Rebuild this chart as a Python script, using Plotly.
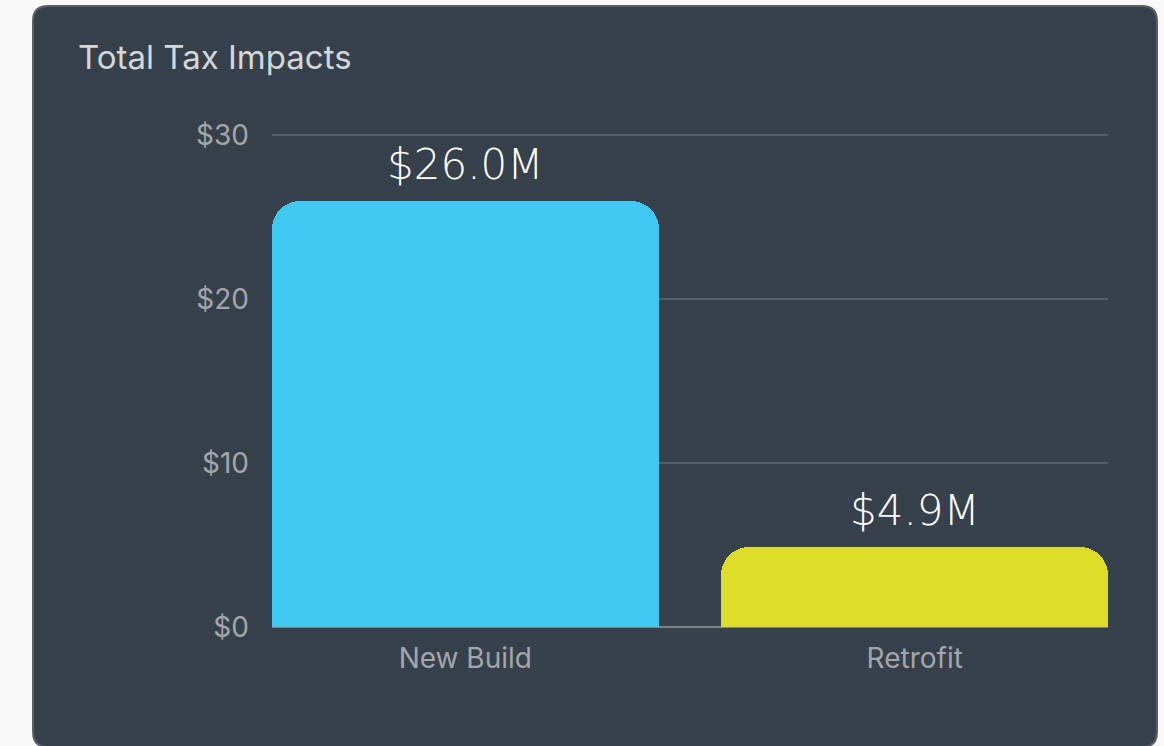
import plotly.graph_objects as go

categories = ['New Build', 'Retrofit']
tax_impact = [26.0, 4.9]  # $M
value_labels = ['$26.0M', '$4.9M']
bar_colors = ['#3ec8f2', '#dddc28']
y_ticks = [0, 10, 20, 30]
y_tick_labels = ['$0', '$10', '$20', '$30']

W, H = 1164, 746
L, R, T, B = 272, 56, 132, 119
CARD = '#37414b'
FONT = 'Inter'
VALUE_FONT = 'DejaVu Sans'


def px(x):
    return (x - L) / (W - L - R)


def py(y):
    return (H - B - y) / (H - T - B)


def rounded_rect(x0, y0, x1, y1, r):
    pts = [
        f'M {px(x0 + r)} {py(y0)}',
        f'L {px(x1 - r)} {py(y0)}',
        f'Q {px(x1)} {py(y0)} {px(x1)} {py(y0 + r)}',
        f'L {px(x1)} {py(y1 - r)}',
        f'Q {px(x1)} {py(y1)} {px(x1 - r)} {py(y1)}',
        f'L {px(x0 + r)} {py(y1)}',
        f'Q {px(x0)} {py(y1)} {px(x0)} {py(y1 - r)}',
        f'L {px(x0)} {py(y0 + r)}',
        f'Q {px(x0)} {py(y0)} {px(x0 + r)} {py(y0)}',
        'Z',
    ]
    return ' '.join(pts)


fig = go.Figure()
fig.add_trace(go.Bar(
    x=categories, y=tax_impact, width=0.86,
    marker=dict(color=bar_colors, line=dict(width=0), cornerradius=28),
    hoverinfo='x+y',
))

for c, v, lab in zip(categories, tax_impact, value_labels):
    fig.add_annotation(x=c, y=v, text=lab, showarrow=False, yanchor='bottom', yshift=10,
                       font=dict(family=VALUE_FONT, size=42, weight=200, color='#ffffff'))

fig.add_shape(type='path', xref='paper', yref='paper', layer='below',
              path=rounded_rect(33, 6, 1157, 747, 15),
              fillcolor=CARD, line=dict(color='#5c6066', width=2))

fig.update_layout(
    width=W, height=H,
    margin=dict(l=L, r=R, t=T, b=B, pad=0),
    paper_bgcolor='#f8f8f8',
    plot_bgcolor='rgba(0,0,0,0)',
    font=dict(family=FONT, size=28, color='#a3a6aa'),
    title=dict(text='Total Tax Impacts', xref='container', yref='container',
               x=78 / W, y=1 - 57 / H, xanchor='left', yanchor='middle',
               font=dict(family=FONT, size=33, color='#d4d6d8')),
    showlegend=False,
    bargap=0,
)
fig.update_xaxes(type='category', range=[-0.43, 1.43], showgrid=False, showline=False,
                 ticks='', ticklabelstandoff=12, tickfont=dict(size=28, color='#a3a6aa'))
fig.update_yaxes(range=[0, 30.18], tickvals=y_ticks, ticktext=y_tick_labels, showline=False,
                 ticks='', gridcolor='#555e68', gridwidth=2, zeroline=True,
                 zerolinecolor='#7f8489', zerolinewidth=2, ticklabelstandoff=22,
                 tickfont=dict(size=28, color='#a3a6aa'))

# the page body has an 8px default margin; drop it so the figure sits at 0,0
fig.write_html('out.html', config={'displayModeBar': False},
               post_script="document.body.style.margin='0';")
